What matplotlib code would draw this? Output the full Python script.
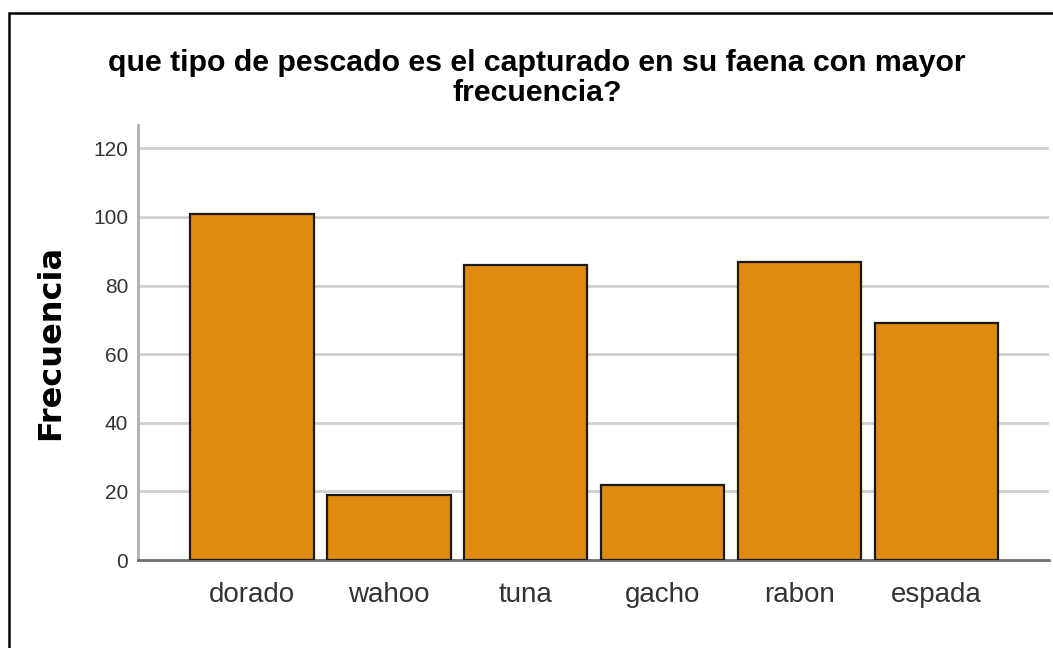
import matplotlib.pyplot as plt
from matplotlib.patches import Rectangle

# Frequency of the species caught
categories = ['dorado', 'wahoo', 'tuna', 'gacho', 'rabon', 'espada']
counts = [101, 19, 86, 22, 87, 69]
yticks = [0, 20, 40, 60, 80, 100, 120]

plt.rcParams['font.family'] = ['Liberation Sans', 'DejaVu Sans']

fig = plt.figure(figsize=(10.53, 6.48), dpi=100)
ax = fig.add_axes([138/1053, 88/648, 911/1053, 435/648])

x = range(len(categories))
ax.bar(x, counts, width=0.9, color='#E08A10', edgecolor='#1a1a1a', linewidth=1.6, zorder=3)

ax.set_xlim(-0.832, 5.82)
ax.set_ylim(0, 126.8)
ax.set_yticks(yticks)
ax.set_yticklabels([str(v) for v in yticks], fontsize=15, color='#333333')
ax.set_xticks(list(x))
ax.set_xticklabels(categories, fontsize=20, color='#333333')
ax.tick_params(length=0)
ax.tick_params(axis='y', pad=7)
ax.tick_params(axis='x', pad=16)

ax.yaxis.grid(True, color='#d0d0d0', linewidth=2, zorder=0)
for s in ['top', 'right']:
    ax.spines[s].set_visible(False)
ax.spines['left'].set_color('#b0b0b0')
ax.spines['left'].set_linewidth(2)
ax.spines['bottom'].set_color('#707070')
ax.spines['bottom'].set_linewidth(2)

fig.text(537/1053, 1 - 78/648, 'que tipo de pescado es el capturado en su faena con mayor\nfrecuencia?',
         ha='center', va='center', fontsize=21.8, fontweight='bold', linespacing=1.05)
fig.text(51/1053, 1 - 342/648, 'Frecuencia', rotation=90, ha='center', va='center',
         fontsize=23, fontweight='bold', family=['DejaVu Sans'])

# outer frame (right and bottom edges fall outside the image)
fig.add_artist(Rectangle((9/1053, -0.1), 1.2, 1 - 13/648 + 0.1, transform=fig.transFigure,
                         fill=False, edgecolor='black', linewidth=1.8))

fig.savefig('out.png', dpi=100)
